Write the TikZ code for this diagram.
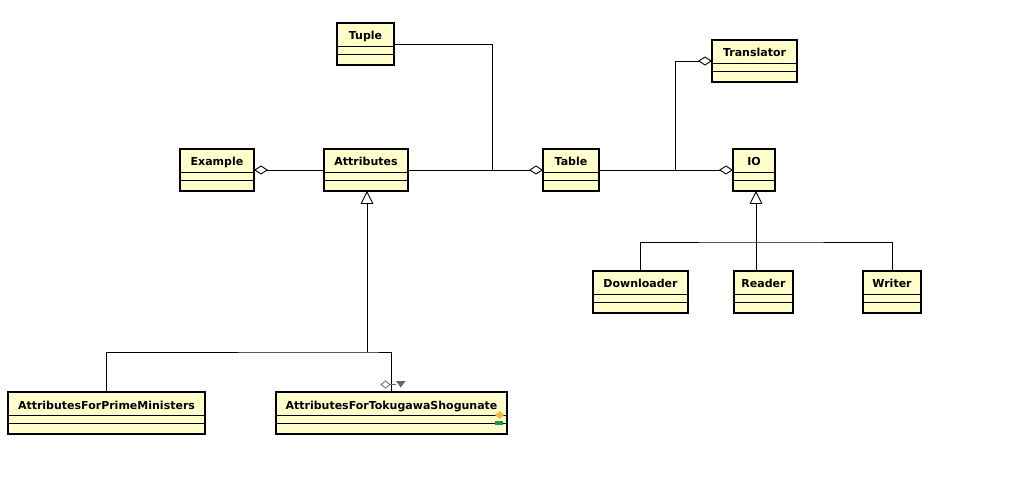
\documentclass[tikz,border=0pt]{standalone}
\usepackage{fontspec}
\setmainfont{DejaVu Sans}
\usetikzlibrary{arrows.meta}
\definecolor{clsfill}{HTML}{FFFFCC}
\definecolor{icongray}{HTML}{666666}
\definecolor{iconorange}{HTML}{F5B942}
\definecolor{icongreen}{HTML}{14955A}
\tikzset{
  clsbox/.style={draw=black, line width=1.6pt, fill=clsfill, minimum height=42pt, inner sep=0pt, outer sep=0pt},
  sepline/.style={draw=black, line width=0.9pt},
  clslabel/.style={font=\bfseries\fontsize{11}{13}\selectfont, anchor=base, inner sep=0pt},
  conn/.style={draw=black, line width=0.9pt},
  agg/.style={conn, -{Diamond[open, length=14pt, width=9pt, line width=0.9pt]}},
  inh/.style={conn, -{Triangle[open, length=13pt, width=13pt, line width=0.9pt]}}
}
\newcommand\umlcls[5]{%
  \node[clsbox, minimum width=#4pt, anchor=north west] (#1) at (#2,#3) {};
  \draw[sepline] ([yshift=-23pt]#1.north west) -- ([yshift=-23pt]#1.north east);
  \draw[sepline] ([yshift=-31pt]#1.north west) -- ([yshift=-31pt]#1.north east);
  \node[clslabel] (#1-label) at ([yshift=-17pt]#1.north) {#5};
}
\begin{document}
\begin{tikzpicture}[x=1pt, y=-1pt]
\useasboundingbox[fill=white] (0,0) rectangle (1013,497);

\umlcls{tuple}{337}{23}{57}{Tuple}
\umlcls{translator}{712}{40}{85}{Translator}
\umlcls{example}{180}{149}{74}{Example}
\umlcls{attributes}{324}{149}{84}{Attributes}
\umlcls{table}{543}{149}{56}{Table}
\umlcls{io}{733}{149}{42}{IO}
\umlcls{downloader}{593}{271}{95}{Downloader}
\umlcls{reader}{734}{271}{59}{Reader}
\umlcls{writer}{863}{271}{58}{Writer}
\umlcls{pm}{8}{392}{197}{AttributesForPrimeMinisters}
\umlcls{toku}{276}{392}{231}{AttributesForTokugawaShogunate}

% aggregations
\draw[agg] (attributes.west) -- (example.east);
\draw[agg] (attributes.east) -- (table.west);
\coordinate (j1) at (492,170);
\draw[conn] (tuple.east) -| (j1);
\draw[agg] (table.east) -- (io.west);
\coordinate (j2) at (675,170);
\draw[agg] (j2) |- (translator.west);

% generalizations
\coordinate (h1) at (367,352);
\draw[inh] (h1) -- (attributes.south -| h1);
\draw[conn] (pm.north) |- (h1) -| (toku.north);

\coordinate (h2) at (756,242);
\draw[inh] (h2) -- (io.south -| h2);
\draw[conn] (downloader.north) |- (h2) -| (writer.north);
\coordinate (rtop) at (reader.north -| h2);
\draw[conn] (h2) -- (rtop);

% small adornments on AttributesForTokugawaShogunate
\draw[icongray, line width=0.8pt] (381,384.5) -- (385.5,381) -- (390,384.5) -- (385.5,388) -- cycle;
\draw[icongray, line width=0.8pt] (390,384.5) -- (396,384.5);
\fill[icongray] (396,381) -- (405.5,381) -- (400.75,387.5) -- cycle;
\fill[iconorange] (495,415) -- (499.5,411) -- (504,415) -- (499.5,419) -- cycle;
\fill[icongreen] (495,421) rectangle (503,425);
\end{tikzpicture}
\end{document}
